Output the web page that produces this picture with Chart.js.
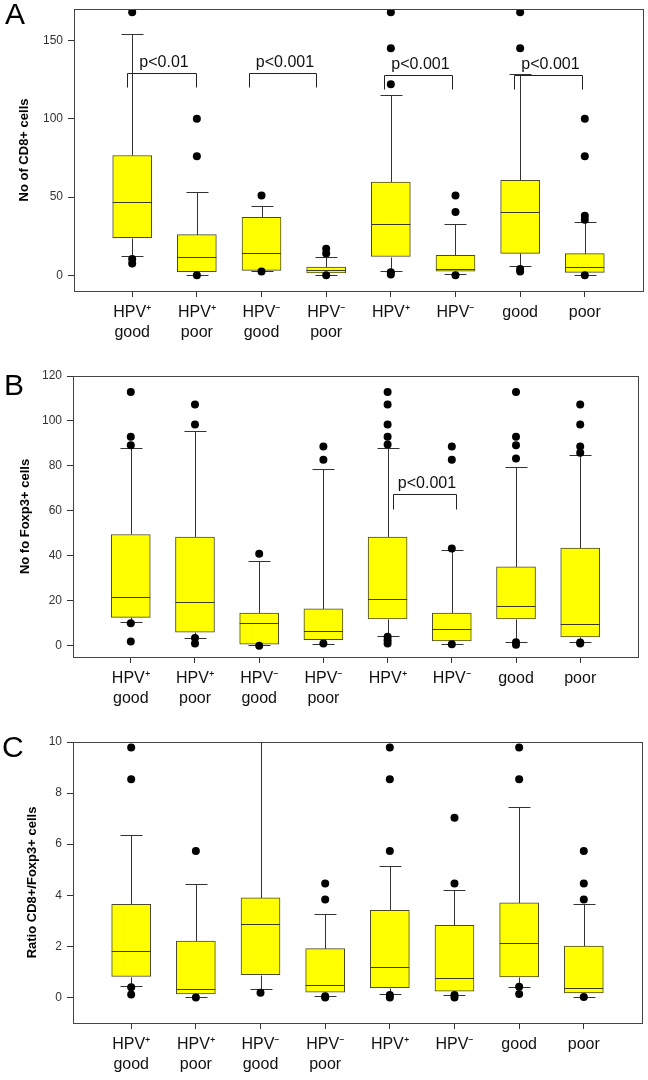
<!DOCTYPE html>
<html>
<head>
<meta charset="utf-8">
<script src="https://cdn.jsdelivr.net/npm/chart.js@4"></script>
<style>
  body { margin: 0; background: #fff; }
  .panel { position: absolute; left: 0; width: 648px; height: 360px; }
</style>
</head>
<body>
<div class="panel" style="top:0"><canvas id="chartA"></canvas></div>
<div class="panel" style="top:360px"><canvas id="chartB"></canvas></div>
<div class="panel" style="top:720px"><canvas id="chartC"></canvas></div>
<script>
// Data
const categories = [['HPV⁺', 'good'], ['HPV⁺', 'poor'], ['HPV⁻', 'good'], ['HPV⁻', 'poor'], 'HPV⁺', 'HPV⁻', 'good', 'poor'];

// A - CD8+
const cd8Low = [12.5, 0, 2.5, 0.5, 2.5, 1, 6, 0.4];
const cd8Q1 = [24, 2.4, 3.2, 1.6, 12, 2.6, 14, 1.9];
const cd8Median = [46.5, 12, 14.3, 3.6, 33, 4.3, 40.4, 5.3];
const cd8Q3 = [76.5, 26, 37, 5.2, 59.6, 12.8, 60.7, 13.9];
const cd8High = [154, 53, 44.5, 12, 115, 32.5, 128.4, 34.2];
const cd8Outliers = [[168, 10.5, 7.5], [100, 76, 0], [51, 2.5], [17, 14, 0], [168, 145, 122, 2, 0.5], [51, 40.5, 0], [168, 145, 4, 2.5], [100, 76, 38, 35.5, 0]];
const cd8Ticks = [0, 50, 100, 150];
const cd8Brackets = [
  { from: 0.92, to: 1.98, top: 129, end: 120, text: 'p<0.01' },
  { from: 2.81, to: 3.85, top: 129, end: 120, text: 'p<0.001' },
  { from: 4.89, to: 5.95, top: 128, end: 119, text: 'p<0.001' },
  { from: 6.9, to: 7.96, top: 128, end: 119, text: 'p<0.001' }
];

// B - Foxp3+
const foxLow = [10.4, 3.6, 0.3, 1, 4.4, 0.7, 1.6, 1.8];
const foxQ1 = [12.6, 6.1, 0.7, 2.7, 11.9, 2.2, 11.9, 3.9];
const foxMedian = [21.6, 19.4, 10.1, 6.7, 21, 7.4, 17.9, 9.5];
const foxQ3 = [49.5, 48.4, 14.5, 16.4, 48.4, 14.5, 35.1, 43.4];
const foxHigh = [88, 95.7, 37.9, 78.7, 88.1, 42.7, 79.7, 85];
const foxOutliers = [[112.9, 93, 89.2, 10, 1.9], [107.3, 98.4, 3.5, 1], [40.9, 0], [88.6, 82.7, 1], [112.9, 107.3, 98.4, 93, 89.5, 4, 2.5, 1], [88.6, 82.7, 43.3, 0.7], [112.9, 93, 89.2, 83.3, 1.6, 0.5], [107.3, 98.4, 88.6, 85.9, 1.5, 1]];
const foxTicks = [0, 20, 40, 60, 80, 100, 120];
const foxBrackets = [
  { from: 5.08, to: 6.07, top: 67.6, end: 61, text: 'p<0.001' }
];

// C - ratio
const ratioLow = [0.44, 0, 0.34, 0.06, 0.14, 0.08, 0.4, 0.02];
const ratioQ1 = [0.82, 0.14, 0.89, 0.21, 0.38, 0.25, 0.8, 0.18];
const ratioMedian = [1.8, 0.34, 2.86, 0.5, 1.18, 0.77, 2.14, 0.38];
const ratioQ3 = [3.65, 2.21, 3.9, 1.91, 3.41, 2.82, 3.7, 2.01];
const ratioHigh = [6.35, 4.43, 10.8, 3.28, 5.15, 4.21, 7.45, 3.67];
const ratioOutliers = [[9.78, 8.54, 0.4, 0.12], [5.73, 0], [0.18], [4.46, 3.83, 0.05, 0], [9.78, 8.54, 5.73, 0.1, 0], [7.03, 4.46, 0.1, 0], [9.78, 8.54, 0.42, 0.14], [5.73, 4.46, 3.83, 0.02]];
const ratioTicks = [0, 2, 4, 6, 8, 10];

Chart.defaults.font.family = "'Liberation Sans', Arial, sans-serif";

function px(v) { return Math.round(v) + 0.5; }

// whiskers, medians, brackets, frame and panel letter
function boxPlugin(p) {
  return {
    id: 'boxes',
    beforeDatasetsDraw(chart) {
      const { ctx, chartArea: a, scales: { x, y } } = chart;
      ctx.save();
      ctx.beginPath();
      ctx.rect(a.left, a.top, a.right - a.left, a.bottom - a.top);
      ctx.clip();
      ctx.strokeStyle = '#333';
      ctx.lineWidth = 1;
      ctx.beginPath();
      p.median.forEach((m, i) => {
        const cx = px(x.getPixelForValue(i + 1));
        const yHi = px(y.getPixelForValue(p.high[i]));
        const yLo = px(y.getPixelForValue(p.low[i]));
        ctx.moveTo(cx, px(y.getPixelForValue(p.q3[i])));
        ctx.lineTo(cx, yHi);
        ctx.moveTo(cx - 11, yHi);
        ctx.lineTo(cx + 11, yHi);
        ctx.moveTo(cx, px(y.getPixelForValue(p.q1[i])));
        ctx.lineTo(cx, yLo);
        ctx.moveTo(cx - 11, yLo);
        ctx.lineTo(cx + 11, yLo);
      });
      ctx.stroke();
      ctx.restore();
    },
    afterDatasetsDraw(chart) {
      const { ctx, chartArea: a, scales: { x, y } } = chart;
      ctx.save();
      // medians
      ctx.strokeStyle = '#3a3a20';
      ctx.lineWidth = 1;
      ctx.beginPath();
      p.median.forEach((m, i) => {
        const cx = x.getPixelForValue(i + 1);
        const my = px(y.getPixelForValue(m));
        ctx.moveTo(cx - 19.5, my);
        ctx.lineTo(cx + 19.5, my);
      });
      ctx.stroke();
      // significance brackets
      ctx.strokeStyle = '#222';
      ctx.fillStyle = '#111';
      ctx.font = '16px "Liberation Sans", Arial, sans-serif';
      ctx.textAlign = 'center';
      ctx.textBaseline = 'alphabetic';
      (p.brackets || []).forEach(b => {
        const x1 = px(x.getPixelForValue(b.from));
        const x2 = px(x.getPixelForValue(b.to));
        const yt = px(y.getPixelForValue(b.top));
        const ye = px(y.getPixelForValue(b.end));
        ctx.beginPath();
        ctx.moveTo(x1, ye);
        ctx.lineTo(x1, yt);
        ctx.lineTo(x2, yt);
        ctx.lineTo(x2, ye);
        ctx.stroke();
        ctx.fillText(b.text, (x1 + x2) / 2 + 2, yt - 7);
      });
      // frame
      ctx.strokeStyle = '#444';
      ctx.strokeRect(px(a.left), px(a.top), Math.round(a.right - a.left), Math.round(a.bottom - a.top));
      // letter
      ctx.fillStyle = '#000';
      ctx.font = '30px "Liberation Sans", Arial, sans-serif';
      ctx.textAlign = 'left';
      ctx.fillText(p.letter, p.letterX, p.letterY);
      ctx.restore();
    }
  };
}

function makePanel(id, p) {
  const points = [];
  p.outliers.forEach((list, i) => list.forEach(v => points.push({ x: i + 1, y: v })));
  return new Chart(document.getElementById(id), {
    type: 'bar',
    data: {
      datasets: [{
        type: 'scatter',
        data: points,
        pointRadius: 4,
        pointBackgroundColor: '#000',
        pointBorderWidth: 0,
        showLine: false
      }, {
        type: 'bar',
        data: p.q1.map((q, i) => ({ x: i + 1, y: [q, p.q3[i]] })),
        backgroundColor: '#ffff00',
        borderColor: '#4a4a2a',
        borderWidth: 1,
        borderSkipped: false,
        barThickness: 39
      }]
    },
    options: {
      responsive: true,
      maintainAspectRatio: false,
      animation: false,
      layout: { padding: { top: p.top, right: p.right, left: 0, bottom: 0 } },
      plugins: { legend: { display: false }, tooltip: { enabled: false } },
      scales: {
        x: {
          type: 'linear',
          min: 0.1,
          max: 8.9,
          offset: false,
          afterBuildTicks: s => { s.ticks = categories.map((c, i) => ({ value: i + 1 })); },
          afterFit: s => { s.height = p.xHeight; },
          ticks: {
            autoSkip: false,
            maxRotation: 0,
            padding: 6,
            color: '#111',
            font: { size: 16, lineHeight: 1.25 },
            callback: v => categories[v - 1]
          },
          grid: { offset: false, drawOnChartArea: false, tickLength: 6, color: '#333' },
          border: { display: false }
        },
        y: {
          min: p.min,
          max: p.max,
          afterBuildTicks: s => { s.ticks = p.ticks.map(v => ({ value: v })); },
          afterFit: s => { s.width = p.yWidth; s.paddingTop = 0; s.paddingBottom = 0; },
          ticks: { padding: 5, color: '#333', font: { size: 12 } },
          grid: { drawOnChartArea: false, tickLength: 6, color: '#333' },
          border: { display: false },
          title: {
            display: true,
            text: p.title,
            color: '#000',
            font: { size: 13, weight: 'bold' },
            padding: { top: p.titlePad, bottom: 0 }
          }
        }
      }
    },
    plugins: [boxPlugin(p)]
  });
}

makePanel('chartA', {
  letter: 'A', letterX: 5, letterY: 24,
  title: 'No of CD8+ cells', titlePad: 17,
  min: -10, max: 170, ticks: cd8Ticks,
  low: cd8Low, q1: cd8Q1, median: cd8Median, q3: cd8Q3, high: cd8High,
  outliers: cd8Outliers, brackets: cd8Brackets,
  top: 9, right: 5, yWidth: 74, xHeight: 69
});

makePanel('chartB', {
  letter: 'B', letterX: 4, letterY: 35,
  title: 'No fo Foxp3+ cells', titlePad: 18,
  min: -5, max: 120, ticks: foxTicks,
  low: foxLow, q1: foxQ1, median: foxMedian, q3: foxQ3, high: foxHigh,
  outliers: foxOutliers, brackets: foxBrackets,
  top: 16, right: 10, yWidth: 73, xHeight: 63
});

makePanel('chartC', {
  letter: 'C', letterX: 2, letterY: 37,
  title: 'Ratio CD8+/Foxp3+ cells', titlePad: 25,
  min: -1, max: 10, ticks: ratioTicks,
  low: ratioLow, q1: ratioQ1, median: ratioMedian, q3: ratioQ3, high: ratioHigh,
  outliers: ratioOutliers, brackets: [],
  top: 22, right: 6, yWidth: 73, xHeight: 57
});
</script>
</body>
</html>
